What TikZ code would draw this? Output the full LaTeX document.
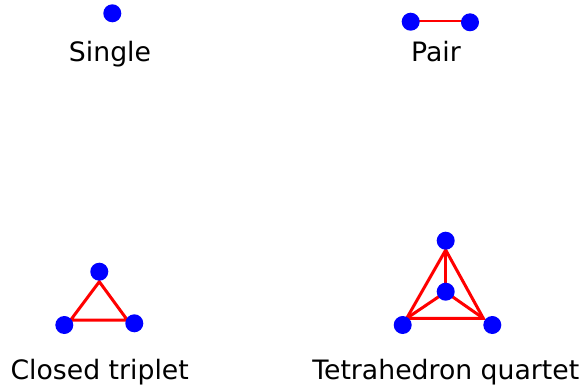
\documentclass[tikz,border=0pt]{standalone}
\usepackage{fontspec}
\setmainfont{DejaVu Sans}
\begin{document}
\begin{tikzpicture}[x=1pt,y=-1pt,
  dot/.style={circle,fill={rgb,255:red,0;green,0;blue,255},draw=none,inner sep=0pt,minimum size=18pt},
  bond/.style={draw={rgb,255:red,255;green,0;blue,0},line width=3pt},
  thinbond/.style={draw={rgb,255:red,255;green,0;blue,0},line width=2pt},
  lbl/.style={anchor=base,inner sep=0pt,font=\fontsize{26.7}{31}\selectfont}]
\useasboundingbox (0,0) rectangle (587,385);
% Single
\node[dot] (s1) at (112.3,13.3) {};
\node[lbl] (ls) at (110,61.7) {Single};
% Pair
\draw[thinbond] (410.7,21.5) coordinate (pa) -- (470,21.5) coordinate (pb);
\node[dot] (p1) at (410.7,21.7) {};
\node[dot] (p2) at (470,22.3) {};
\node[lbl] (lp) at (436,61.7) {Pair};
% Closed triplet
\coordinate (ta) at (99.3,281.7);
\coordinate (tl) at (70.7,320);
\coordinate (tr) at (127.3,320);
\draw[bond] (ta) -- (tl) -- (tr) -- cycle;
\node[dot] (t1) at (99.3,271.7) {};
\node[dot] (t2) at (64.3,325) {};
\node[dot] (t3) at (134.3,323.3) {};
\node[lbl] (lt) at (99.7,379.5) {Closed triplet};
% Tetrahedron quartet
\coordinate (qa) at (445.7,250);
\coordinate (qc) at (445.7,292);
\coordinate (ql) at (406.7,318.3);
\coordinate (qr) at (483.3,318.3);
\draw[bond] (qa) -- (ql) -- (qr) -- cycle;
\draw[bond] (qa) -- (qc);
\draw[bond] (ql) -- (qc) -- (qr);
\node[dot] (q1) at (445.7,240.7) {};
\node[dot] (q2) at (445.7,291.7) {};
\node[dot] (q3) at (402.7,325) {};
\node[dot] (q4) at (492.3,325) {};
\node[lbl] (lq) at (445.8,379.5) {Tetrahedron quartet};
\end{tikzpicture}
\end{document}
